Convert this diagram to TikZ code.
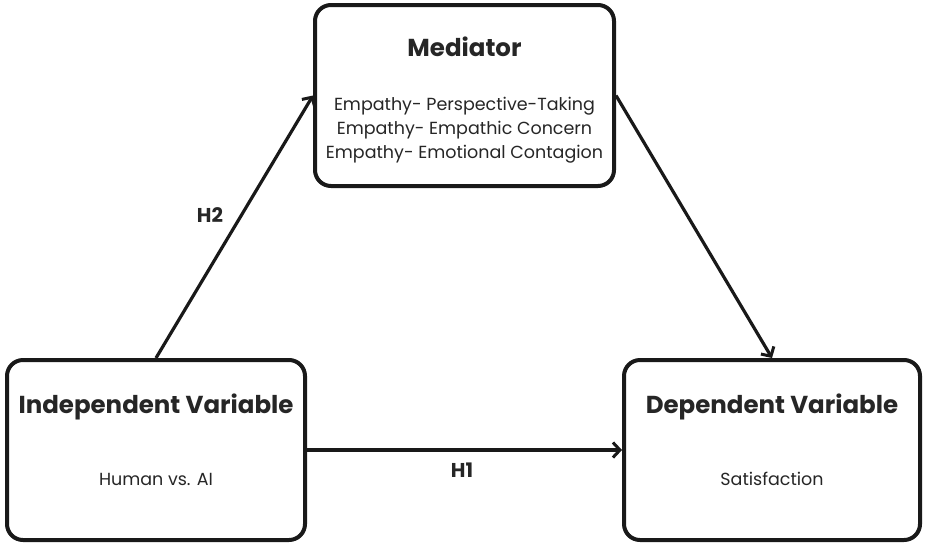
\documentclass[tikz,border=0pt]{standalone}
\usepackage{fontspec}
\setmainfont{Poppins}
\usetikzlibrary{arrows.meta}
\begin{document}
\begin{tikzpicture}[x=1pt,y=-1pt,
  box/.style={draw=black!90, line width=4pt, rounded corners=16pt, inner sep=0pt},
  ttl/.style={font=\fontsize{24.5}{28}\selectfont\bfseries, text=black!85},
  sub/.style={font=\fontsize{17.5}{24}\selectfont, text=black!85, align=center},
  hyp/.style={font=\fontsize{20}{22}\selectfont\bfseries, text=black!85},
  arr/.style={line width=3.2pt, draw=black!90, -{Straight Barb[length=7pt,width=15pt,line width=3pt]}}]
\useasboundingbox (0,0) rectangle (925,544);
\fill[white] (0,0) rectangle (925,544);
\node[box, minimum width=299pt, minimum height=181pt] (med) at (464.5,95.5) {};
\node[box, minimum width=298pt, minimum height=180pt] (iv) at (156,450) {};
\node[box, minimum width=296pt, minimum height=180pt] (dv) at (772,450) {};
\node[ttl] (medt) at (464.5,47) {Mediator};
\node[sub] (meds) at (464.5,130) {Empathy- Perspective-Taking\\Empathy- Empathic Concern\\Empathy- Emotional Contagion};
\node[ttl] (ivt) at (156,407) {Independent Variable};
\node[sub] (ivs) at (156,479) {Human vs. AI};
\node[ttl] (dvt) at (772,407) {Dependent Variable};
\node[sub] (dvs) at (772,479) {Satisfaction};
\draw[arr] (iv.north) -- (med.west);
\draw[arr] (med.east) -- (dv.north);
\draw[arr] (iv.east) -- (dv.west);
\node[hyp] (h2) at (210,215) {H2};
\node[hyp] (h1) at (462,470) {H1};
\end{tikzpicture}
\end{document}
